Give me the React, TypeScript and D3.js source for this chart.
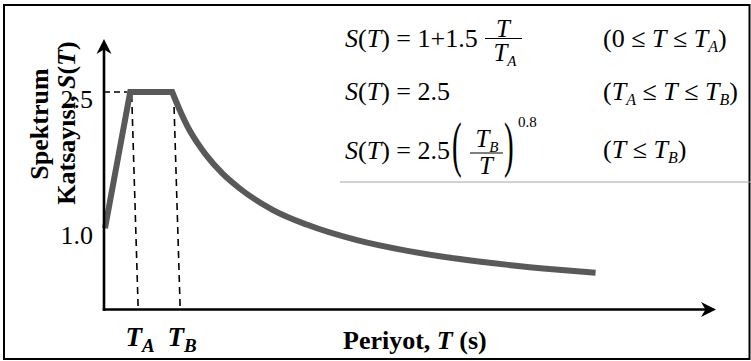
import React, { useEffect, useRef } from "react";
import * as d3 from "d3";

// spectrum (T in s, S(T) dimensionless)
const periods = [0, 0.15, 0.4, 0.45, 0.5, 0.55, 0.6, 0.7, 0.8, 1.0, 1.2, 1.5, 1.8, 2.1, 2.4, 2.7, 2.92];
const spectrum = [1.0, 2.5, 2.5, 2.28, 2.09, 1.94, 1.81, 1.6, 1.44, 1.2, 1.04, 0.868, 0.75, 0.663, 0.596, 0.543, 0.509];

const cornerPeriods = [0.15, 0.4];
const cornerNames = ["A", "B"];

const yTicks = [1.0, 2.5];
const yTickLabels = ["1.0", "2.5"];

const width = 751;
const height = 361;
const serif = "'Liberation Serif', 'Times New Roman', Times, serif";

function App() {
  const ref = useRef(null);

  const x = d3.scaleLinear().domain([0, 3]).range([105, 609]);
  const y = d3.scaleLinear().domain([0, 2.5]).range([319, 92]);
  const axisX = 104;
  const axisY = 309.5;

  useEffect(() => {
    drawChart();
  }, []);

  const drawChart = () => {
    const svg = d3.select(ref.current);
    svg.selectAll("*").remove();

    //dashed guides
    const top = y(d3.max(spectrum));
    svg
      .append("line")
      .attr("x1", axisX)
      .attr("x2", x(cornerPeriods[0]) - 3)
      .attr("y1", top)
      .attr("y2", top)
      .attr("stroke", "#000")
      .attr("stroke-width", 1.6)
      .attr("stroke-dasharray", "6,4");

    svg
      .selectAll(".guide")
      .data(cornerPeriods)
      .enter()
      .append("line")
      .attr("class", "guide")
      .attr("x1", (d) => x(d) + 1.5)
      .attr("y1", top + 3)
      .attr("x2", (d) => x(d) + 8)
      .attr("y2", axisY)
      .attr("stroke", "#000")
      .attr("stroke-width", 1.6)
      .attr("stroke-dasharray", "7,5");

    //spectrum curve: straight rise + plateau, smooth decay
    const pts = periods.map((p, i) => [p, spectrum[i]]);
    const knee = periods.indexOf(cornerPeriods[1]);
    const straight = d3
      .line()
      .x((d) => x(d[0]))
      .y((d) => y(d[1]));
    const smooth = d3
      .line()
      .x((d) => x(d[0]))
      .y((d) => y(d[1]))
      .curve(d3.curveMonotoneX);
    const path =
      straight(pts.slice(0, knee + 1)) +
      smooth(pts.slice(knee)).replace(/^M/, "L");

    svg
      .append("path")
      .attr("d", path)
      .attr("fill", "none")
      .attr("stroke", "#595959")
      .attr("stroke-width", 6)
      .attr("stroke-linejoin", "miter")
      .attr("stroke-linecap", "butt");

    //axes with arrows
    svg
      .append("line")
      .attr("x1", axisX)
      .attr("x2", axisX)
      .attr("y1", axisY + 1.2)
      .attr("y2", 48)
      .attr("stroke", "#000")
      .attr("stroke-width", 2.6);
    svg
      .append("path")
      .attr("d", `M${axisX},39L${axisX + 7.5},54L${axisX},49.5L${axisX - 7.5},54Z`)
      .attr("fill", "#000");

    svg
      .append("line")
      .attr("x1", axisX - 1.3)
      .attr("x2", 708)
      .attr("y1", axisY)
      .attr("y2", axisY)
      .attr("stroke", "#000")
      .attr("stroke-width", 2.6);
    svg
      .append("path")
      .attr("d", `M716,${axisY}L701,${axisY - 7.5}L705.5,${axisY}L701,${axisY + 7.5}Z`)
      .attr("fill", "#000");

    //y tick labels
    svg
      .selectAll(".ytick")
      .data(yTicks)
      .enter()
      .append("text")
      .attr("class", "ytick")
      .attr("x", 93)
      .attr("y", (d) => y(d) + 16)
      .attr("text-anchor", "end")
      .attr("font-family", serif)
      .attr("font-size", 26)
      .text((d, i) => yTickLabels[i]);

    //T_A, T_B labels
    const corner = svg
      .selectAll(".corner")
      .data(cornerPeriods)
      .enter()
      .append("text")
      .attr("class", "corner")
      .attr("x", (d) => x(d) + 10)
      .attr("y", 346)
      .attr("text-anchor", "middle")
      .attr("font-family", serif)
      .attr("font-weight", "bold")
      .attr("font-style", "italic")
      .attr("font-size", 27);
    corner.append("tspan").text("T");
    corner
      .append("tspan")
      .attr("dy", 6)
      .attr("font-size", 19)
      .text((d, i) => cornerNames[i]);
  };

  const it = { fontStyle: "italic" } as React.CSSProperties;

  return (
    <div style={{ position: "absolute", left: 0, top: 0 }}>
      <svg width={width} height={height} style={{ display: "block" }} fontFamily={serif}>
        <rect x={4} y={5} width={745.5} height={354} fill="none" stroke="#000" strokeWidth={2} />
        <g ref={ref}></g>

        {/* axis titles */}
        <text x={343} y={349} fontSize={26} fontWeight="bold">
          Periyot, <tspan style={it}>T</tspan> (s)
        </text>
        <g transform="translate(48,124) rotate(-90)">
          <text textAnchor="middle" fontSize={26} fontWeight="bold">
            Spektrum
          </text>
        </g>
        <g transform="translate(75,123) rotate(-90)">
          <text textAnchor="middle" fontSize={26} fontWeight="bold">
            Katsayısı, <tspan style={it}>S</tspan>(<tspan style={it}>T</tspan>)
          </text>
        </g>

        {/* formulas */}
        <g fontSize={26}>
          <text x={345} y={47}>
            <tspan style={it}>S</tspan>(<tspan style={it}>T</tspan>) = 1+1.5
          </text>
          <text x={503} y={37} fontSize={25} textAnchor="middle" style={it}>T</text>
          <line x1={485} x2={522} y1={38.5} y2={38.5} stroke="#000" strokeWidth={1.2} />
          <text x={505} y={61} fontSize={25} textAnchor="middle" style={it}>
            T<tspan fontSize={15} dy={5}>A</tspan>
          </text>

          <text x={345} y={100}>
            <tspan style={it}>S</tspan>(<tspan style={it}>T</tspan>) = 2.5
          </text>

          <text x={345} y={159}>
            <tspan style={it}>S</tspan>(<tspan style={it}>T</tspan>) = 2.5
          </text>
          <text transform="translate(452,165) scale(1,2.1)" fontSize={29}>(</text>
          <text transform="translate(504,165) scale(1,2.1)" fontSize={29}>)</text>
          <text x={487} y={147} fontSize={25} textAnchor="middle" style={it}>
            T<tspan fontSize={15} dy={5}>B</tspan>
          </text>
          <line x1={470} x2={503} y1={153} y2={153} stroke="#000" strokeWidth={1.2} />
          <text x={486} y={174} fontSize={25} textAnchor="middle" style={it}>T</text>
          <text x={518} y={127} fontSize={15}>0.8</text>

          <text x={603} y={47}>
            (0 ≤ <tspan style={it}>T</tspan> ≤ <tspan style={it}>T</tspan>
            <tspan fontSize={16} dy={5} style={it}>A</tspan>
            <tspan dy={-5}>)</tspan>
          </text>
          <text x={603} y={100}>
            (<tspan style={it}>T</tspan>
            <tspan fontSize={16} dy={5} style={it}>A</tspan>
            <tspan dy={-5}> ≤ </tspan>
            <tspan style={it}>T</tspan> ≤ <tspan style={it}>T</tspan>
            <tspan fontSize={16} dy={5} style={it}>B</tspan>
            <tspan dy={-5}>)</tspan>
          </text>
          <text x={603} y={158}>
            (<tspan style={it}>T</tspan> ≤ <tspan style={it}>T</tspan>
            <tspan fontSize={16} dy={5} style={it}>B</tspan>
            <tspan dy={-5}>)</tspan>
          </text>
        </g>
        <line x1={340} x2={751} y1={182} y2={182} stroke="#a6a6a6" strokeWidth={1} />
      </svg>
    </div>
  );
}

export default App;
